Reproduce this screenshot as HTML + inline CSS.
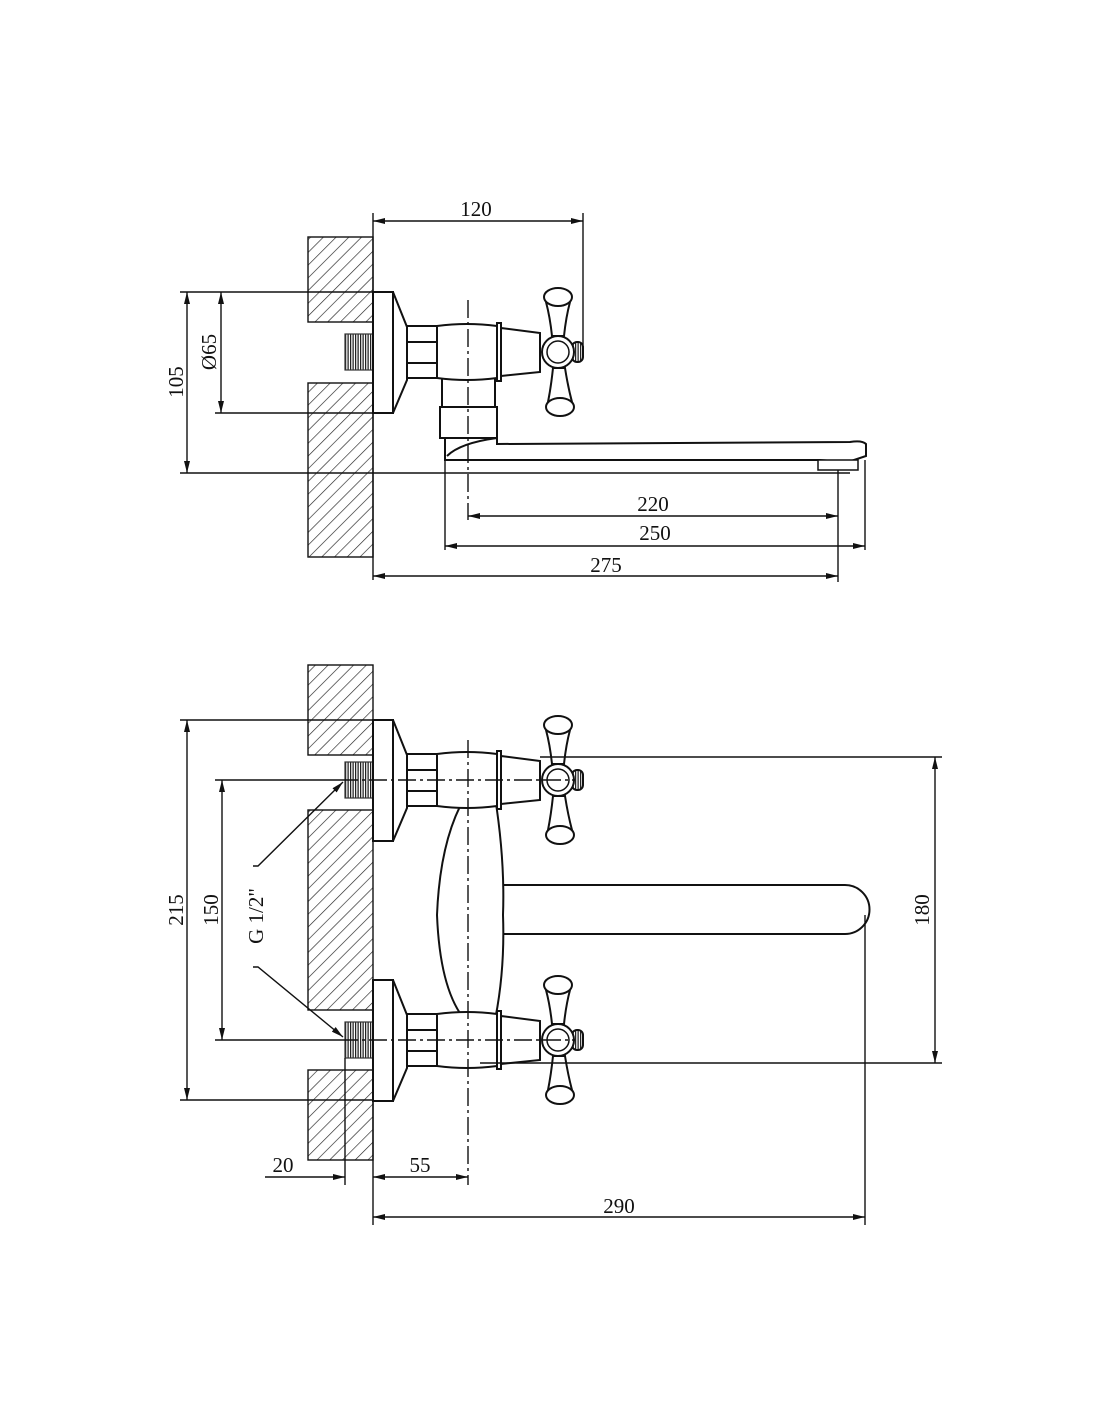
<!DOCTYPE html>
<html><head><meta charset="utf-8"><style>
html,body{margin:0;padding:0;background:#fff;}
svg{display:block;}
text{font-family:"Liberation Serif",serif;font-size:21px;fill:#111;}
</style></head><body>
<svg width="1100" height="1422" viewBox="0 0 1100 1422" xmlns="http://www.w3.org/2000/svg">
<defs>
<pattern id="h" width="9" height="9" patternUnits="userSpaceOnUse" patternTransform="rotate(45)">
<line x1="0" y1="0" x2="0" y2="9" stroke="#222" stroke-width="1.3"/>
</pattern>
<pattern id="t" width="2.5" height="10" patternUnits="userSpaceOnUse">
<rect width="2.5" height="10" fill="#fff"/>
<line x1="0.6" y1="0" x2="0.6" y2="10" stroke="#222" stroke-width="1.3"/>
</pattern>
<marker id="a" markerWidth="12" markerHeight="6" refX="12" refY="3" orient="auto-start-reverse" markerUnits="userSpaceOnUse">
<path d="M0,0 L12,3 L0,6 z" fill="#111"/>
</marker>
<g id="valve" fill="#fff" stroke="#111" stroke-width="2">
<rect x="345" y="-18" width="28" height="36" fill="url(#t)" stroke="#333" stroke-width="1.2"/>
<rect x="373" y="-60" width="20" height="121"/>
<path d="M393,-60 L407,-25 L407,28 L393,61 z"/>
<rect x="407" y="-26" width="30" height="52"/>
<line x1="407" y1="-10" x2="437" y2="-10"/>
<line x1="407" y1="11" x2="437" y2="11"/>
<path d="M437,-26 Q467,-30 497,-26 L497,26 Q467,30 437,26 z"/>
<rect x="497" y="-29" width="4" height="58"/>
<path d="M501,-24 L540,-19 L540,20 L501,24 z"/>
<path d="M552,-16 Q550,-35 546,-50 L570,-50 Q566,-35 564,-16 z"/>
<ellipse cx="558" cy="-55" rx="14" ry="9"/>
<path d="M553,16 Q551,35 548,50 L572,50 Q568,35 565,16 z"/>
<ellipse cx="560" cy="55" rx="14" ry="9"/>
<rect x="572" y="-10" width="11" height="20" rx="5" fill="url(#t)"/>
<circle cx="558" cy="0" r="16"/>
<circle cx="558" cy="0" r="11" stroke-width="1.5"/>
</g>
</defs>

<g stroke="#111" fill="none" stroke-width="1.4">
<!-- TOP VIEW -->
<rect x="308" y="237" width="65" height="85" fill="url(#h)"/>
<rect x="308" y="383" width="65" height="174" fill="url(#h)"/>
<path d="M442,378 L442,410 L495,410 L495,378" fill="#fff" stroke-width="2"/>
<rect x="440" y="407" width="57" height="31" fill="#fff" stroke-width="2"/>
<path d="M445,438 L445,460 L820,460 L848,462 L866,456 L866,444 Q862,440 850,442 L497,444 L497,438 Q460,443 447,456" fill="#fff" stroke-width="2"/>
<rect x="818" y="460" width="40" height="10" fill="#fff" stroke-width="1.5"/>
<use href="#valve" transform="translate(0,352)"/>
<line x1="468" y1="300" x2="468" y2="520" stroke-dasharray="18,4,3,4"/>
<line x1="373" y1="213" x2="373" y2="580"/>
<line x1="583" y1="213" x2="583" y2="345"/>
<line x1="373" y1="221" x2="583" y2="221" marker-start="url(#a)" marker-end="url(#a)"/>
<line x1="180" y1="292" x2="373" y2="292"/>
<line x1="215" y1="413" x2="373" y2="413"/>
<line x1="180" y1="473" x2="850" y2="473"/>
<line x1="187" y1="292" x2="187" y2="473" marker-start="url(#a)" marker-end="url(#a)"/>
<line x1="221" y1="292" x2="221" y2="413" marker-start="url(#a)" marker-end="url(#a)"/>
<line x1="445" y1="460" x2="445" y2="550"/>
<line x1="838" y1="470" x2="838" y2="582"/>
<line x1="865" y1="460" x2="865" y2="550"/>
<line x1="468" y1="516" x2="838" y2="516" marker-start="url(#a)" marker-end="url(#a)"/>
<line x1="445" y1="546" x2="865" y2="546" marker-start="url(#a)" marker-end="url(#a)"/>
<line x1="373" y1="576" x2="838" y2="576" marker-start="url(#a)" marker-end="url(#a)"/>

<!-- BOTTOM VIEW -->
<rect x="308" y="665" width="65" height="90" fill="url(#h)"/>
<rect x="308" y="810" width="65" height="200" fill="url(#h)"/>
<rect x="308" y="1070" width="65" height="90" fill="url(#h)"/>
<path d="M500,885 L845,885 A24,24 0 0 1 845,934 L500,934" fill="#fff" stroke-width="2"/>
<path d="M465,797 Q480,790 495,797 Q505,860 503,915 Q505,970 495,1020 Q480,1028 465,1020 Q440,990 437,915 Q440,840 465,797 z" fill="#fff" stroke-width="2"/>
<use href="#valve" transform="translate(0,780)"/>
<use href="#valve" transform="translate(0,1040)"/>
<line x1="468" y1="740" x2="468" y2="1185" stroke-dasharray="18,4,3,4"/>
<line x1="340" y1="780" x2="575" y2="780" stroke-dasharray="18,4,3,4"/>
<line x1="340" y1="1040" x2="575" y2="1040" stroke-dasharray="18,4,3,4"/>
<line x1="180" y1="720" x2="373" y2="720"/>
<line x1="180" y1="1100" x2="373" y2="1100"/>
<line x1="215" y1="780" x2="340" y2="780"/>
<line x1="215" y1="1040" x2="340" y2="1040"/>
<line x1="187" y1="720" x2="187" y2="1100" marker-start="url(#a)" marker-end="url(#a)"/>
<line x1="222" y1="780" x2="222" y2="1040" marker-start="url(#a)" marker-end="url(#a)"/>
<line x1="540" y1="757" x2="942" y2="757"/>
<line x1="480" y1="1063" x2="942" y2="1063"/>
<line x1="935" y1="757" x2="935" y2="1063" marker-start="url(#a)" marker-end="url(#a)"/>
<polyline points="253,866 258,866 343,782" marker-end="url(#a)"/>
<polyline points="253,967 258,967 343,1037" marker-end="url(#a)"/>
<line x1="373" y1="1100" x2="373" y2="1225"/>
<line x1="345" y1="1058" x2="345" y2="1185"/>
<line x1="865" y1="915" x2="865" y2="1225"/>
<line x1="265" y1="1177" x2="345" y2="1177" marker-end="url(#a)"/>
<line x1="373" y1="1177" x2="468" y2="1177" marker-start="url(#a)" marker-end="url(#a)"/>
<line x1="373" y1="1217" x2="865" y2="1217" marker-start="url(#a)" marker-end="url(#a)"/>
</g>

<text x="476" y="216" text-anchor="middle">120</text>
<text x="183" y="382" text-anchor="middle" transform="rotate(-90 183 382)">105</text>
<text x="216" y="352" text-anchor="middle" transform="rotate(-90 216 352)">Ø65</text>
<text x="653" y="511" text-anchor="middle">220</text>
<text x="655" y="540" text-anchor="middle">250</text>
<text x="606" y="572" text-anchor="middle">275</text>
<text x="183" y="910" text-anchor="middle" transform="rotate(-90 183 910)">215</text>
<text x="218" y="910" text-anchor="middle" transform="rotate(-90 218 910)">150</text>
<text x="263" y="916" text-anchor="middle" transform="rotate(-90 263 916)">G 1/2"</text>
<text x="929" y="910" text-anchor="middle" transform="rotate(-90 929 910)">180</text>
<text x="283" y="1172" text-anchor="middle">20</text>
<text x="420" y="1172" text-anchor="middle">55</text>
<text x="619" y="1213" text-anchor="middle">290</text>
</svg>
</body></html>
